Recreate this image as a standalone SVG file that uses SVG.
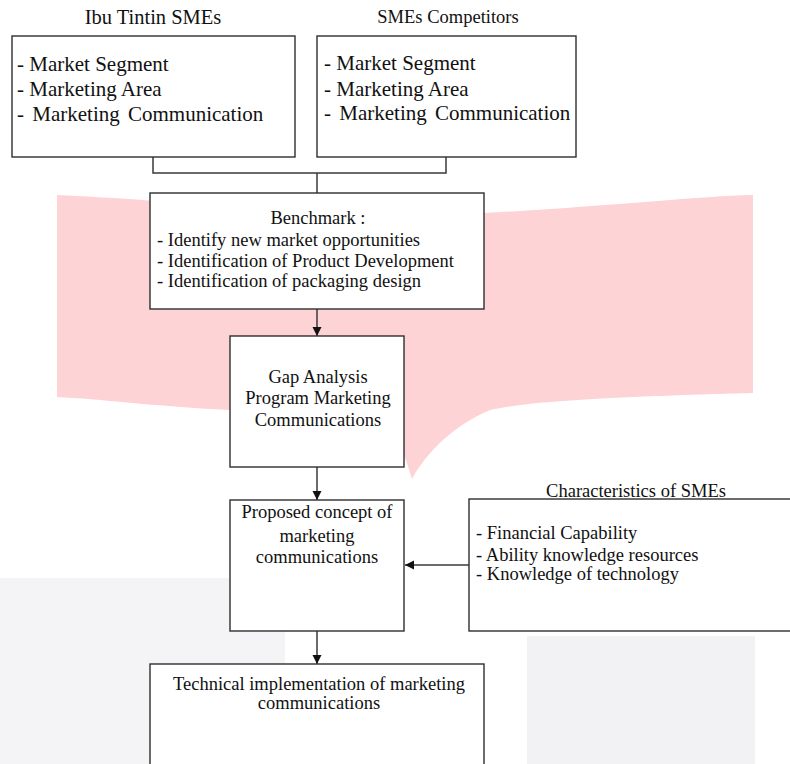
<svg xmlns="http://www.w3.org/2000/svg" width="790" height="764" viewBox="0 0 790 764">
<style>
  .box { fill: #ffffff; stroke: #2e2e2e; stroke-width: 1.4; }
  .conn { fill: none; stroke: #3a3a3a; stroke-width: 1.5; }
  text { font-family: "Liberation Serif", "Times New Roman", serif; fill: #111111; }
  .big { font-size: 21px; }
  .t { font-size: 18.5px; }
  .c { text-anchor: middle; }
</style>
<defs>
  <marker id="arr" markerUnits="userSpaceOnUse" markerWidth="10" markerHeight="10" refX="9" refY="4.5" orient="auto">
    <path d="M0,0 L9,4.5 L0,9 z" fill="#111111"/>
  </marker>
</defs>
<rect width="790" height="764" fill="#ffffff"/>
<!-- watermark background -->
<g id="watermark">
  <path d="M57,195 C150,199 300,214 484,213 C600,207 700,196 753,195 L753,393 C650,396 540,399 490,410 C455,425 428,450 412,479 C405,455 396,430 380,418 C330,412 260,410 230,410 C150,406 100,399 57,397 Z" fill="#fdd3d6"/>
  <rect x="0" y="578" width="285" height="186" fill="#f4f4f7"/>
  <rect x="527" y="636" width="228" height="128" fill="#f2f2f5"/>
</g>
<g id="connectors">
  <polyline class="conn" points="153,157 153,173 446,173 446,157"/>
  <line class="conn" x1="317" y1="173" x2="317" y2="193"/>
  <line class="conn" x1="317" y1="309" x2="317" y2="336" marker-end="url(#arr)"/>
  <line class="conn" x1="317" y1="467" x2="317" y2="500" marker-end="url(#arr)"/>
  <line class="conn" x1="469" y1="565" x2="405" y2="565" marker-end="url(#arr)"/>
  <line class="conn" x1="317" y1="631" x2="317" y2="664" marker-end="url(#arr)"/>
</g>
<g id="ibu-tintin">
  <text class="c" x="153" y="24" font-size="20.5">Ibu Tintin SMEs</text>
  <rect class="box" x="12" y="36" width="283" height="121"/>
  <text class="big" x="17" y="71">- Market Segment</text>
  <text class="big" x="17" y="96">- Marketing Area</text>
  <text class="big" x="17" y="121" word-spacing="3">- Marketing Communication</text>
</g>
<g id="competitors">
  <text class="c" x="448" y="23" font-size="18.5">SMEs Competitors</text>
  <rect class="box" x="317" y="36" width="259" height="121"/>
  <text class="big" x="324" y="70">- Market Segment</text>
  <text class="big" x="324" y="95.5">- Marketing Area</text>
  <text class="big" x="324" y="120" word-spacing="3">- Marketing Communication</text>
</g>
<g id="benchmark">
  <rect class="box" x="150" y="193" width="334" height="116"/>
  <text class="t c" x="318" y="224">Benchmark :</text>
  <text class="t" x="157" y="246">- Identify new market opportunities</text>
  <text class="t" x="157" y="267">- Identification of Product Development</text>
  <text class="t" x="157" y="287">- Identification of packaging design</text>
</g>
<g id="gap-analysis">
  <rect class="box" x="230" y="336" width="174" height="131"/>
  <text class="t c" x="318" y="383">Gap Analysis</text>
  <text class="t c" x="318" y="404">Program Marketing</text>
  <text class="t c" x="318" y="426">Communications</text>
</g>
<g id="proposed">
  <rect class="box" x="230" y="500" width="174" height="131"/>
  <text class="t c" x="317" y="518">Proposed concept of</text>
  <text class="t c" x="317" y="541.5">marketing</text>
  <text class="t c" x="317" y="563">communications</text>
</g>
<g id="characteristics">
  <text class="t c" x="636" y="497">Characteristics of SMEs</text>
  <rect class="box" x="469" y="499" width="330" height="132"/>
  <text class="t" x="476" y="539">- Financial Capability</text>
  <text class="t" x="476" y="561">- Ability knowledge resources</text>
  <text class="t" x="476" y="580">- Knowledge of technology</text>
</g>
<g id="technical">
  <rect class="box" x="150" y="664" width="334" height="120"/>
  <text class="t c" x="319" y="690">Technical implementation of marketing</text>
  <text class="t c" x="319" y="709">communications</text>
</g>
</svg>
